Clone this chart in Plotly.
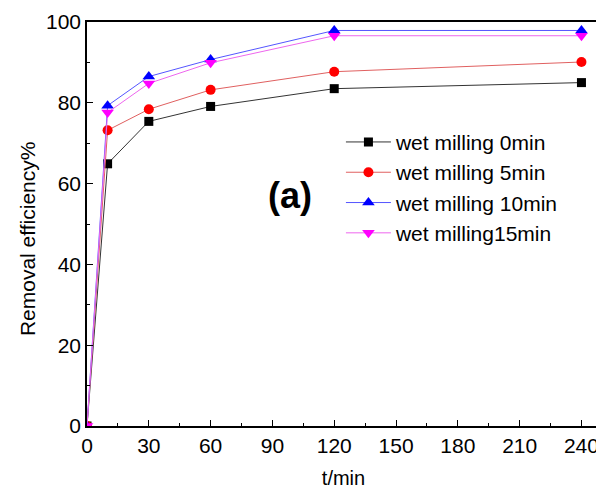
import plotly.graph_objects as go

t = [0, 10, 30, 60, 120, 240]
s0 = [0, 64.9, 75.4, 79.1, 83.5, 85.0]
s5 = [0, 73.2, 78.4, 83.2, 87.7, 90.1]
s10 = [0, 79.3, 86.5, 90.7, 97.9, 97.9]
s15 = [0, 77.6, 84.8, 89.9, 96.6, 96.6]
names = ["wet milling 0min", "wet milling 5min", "wet milling 10min", "wet milling15min"]
xticks = [0, 30, 60, 90, 120, 150, 180, 210, 240]

FONT = "Liberation Sans, Arial"
fig = go.Figure()
specs = [(s0, "black", "square", 9, "#333333"), (s5, "red", "circle", 10, "#e06060"),
         (s10, "blue", "triangle-up", 11, "#5555ff"), (s15, "magenta", "triangle-down", 11, "#ee66ee")]
for (ys, mc, sym, sz, lc), nm in zip(specs, names):
    fig.add_trace(go.Scatter(x=t, y=ys, name=nm, mode="lines+markers",
                             line=dict(color=lc, width=1),
                             marker=dict(color=mc, symbol=sym, size=sz)))

fig.add_annotation(x=98.5, y=57, text="<b>(a)</b>", showarrow=False,
                   font=dict(size=36, color="black", family=FONT))
# y-axis title, placed slightly below the plot's vertical centre as in the reference
fig.add_annotation(x=-0.117, y=0.465, xref="paper", yref="paper", text="Removal efficiency%",
                   textangle=-90, showarrow=False, xanchor="center", yanchor="middle",
                   font=dict(size=21, color="black", family=FONT))

axis_common = dict(showline=True, linecolor="black", linewidth=1.5, mirror=True,
                   ticks="inside", ticklen=6, tickcolor="black", showgrid=False, zeroline=False,
                   automargin=False,
                   tickfont=dict(size=21, color="black", family=FONT))
fig.update_xaxes(range=[0, 249], tickvals=xticks,
                 minor=dict(ticks="inside", ticklen=3, dtick=15, tick0=0, tickcolor="black"),
                 title=dict(text="t/min", font=dict(size=20, color="black", family=FONT), standoff=16),
                 **axis_common)
fig.update_yaxes(range=[0, 100], dtick=20,
                 minor=dict(ticks="inside", ticklen=3, dtick=10, tick0=0, tickcolor="black"),
                 **axis_common)

# page body has an 8px default margin, so the figure is sized to fit the 604x489 window
fig.update_layout(width=596, height=481, plot_bgcolor="white", paper_bgcolor="white",
                  margin=dict(l=79, r=4, t=14, b=63),
                  font=dict(family=FONT, color="black"),
                  legend=dict(x=0.495, y=0.753, xanchor="left", yanchor="top",
                              bgcolor="rgba(0,0,0,0)", font=dict(size=21),
                              tracegroupgap=0, itemwidth=45))
fig.write_html("out.html")
